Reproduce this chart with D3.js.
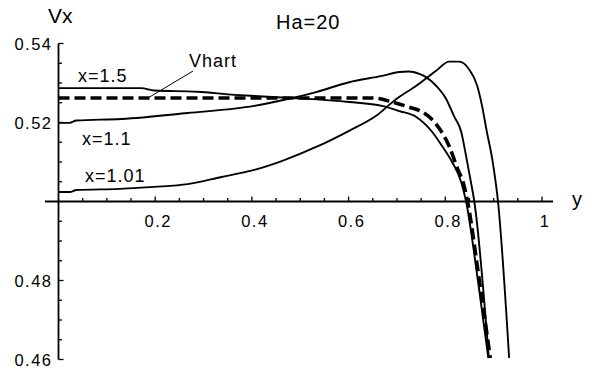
<!DOCTYPE html>
<html>
<head>
<meta charset="utf-8">
<script src="https://cdn.jsdelivr.net/npm/d3@7"></script>
<style>
  body { margin: 0; background: white; }
  text { font-family: "Liberation Sans", Arial, Helvetica, sans-serif; fill: black; }
</style>
</head>
<body>
<div id="chart"></div>
<script>
// y (horizontal) vs Vx, Ha=20
const vhart = [[0, 0.5262], [0.3, 0.5262], [0.649, 0.5262], [0.69, 0.5252], [0.725, 0.5239],
  [0.752, 0.5227], [0.781, 0.5196], [0.808, 0.514], [0.824, 0.5087], [0.839, 0.5039],
  [0.846, 0.5], [0.87, 0.4804], [0.893, 0.4604]];
const x15 = [[0, 0.5287], [0.171, 0.5287], [0.198, 0.5281], [0.287, 0.5278], [0.364, 0.527],
  [0.405, 0.5267], [0.483, 0.5262], [0.601, 0.5252], [0.669, 0.5242], [0.705, 0.5229],
  [0.74, 0.5214], [0.773, 0.5176], [0.793, 0.5141], [0.814, 0.51], [0.833, 0.5049],
  [0.843, 0.5], [0.868, 0.4795], [0.889, 0.4604]];
const x11 = [[0, 0.5199], [0.023, 0.5199], [0.037, 0.5205], [0.13, 0.5209], [0.267, 0.5224],
  [0.405, 0.5242], [0.483, 0.5262], [0.533, 0.5277], [0.601, 0.5302], [0.669, 0.5318],
  [0.705, 0.5328], [0.725, 0.5329], [0.746, 0.5323], [0.76, 0.5315], [0.781, 0.5293],
  [0.802, 0.5259], [0.818, 0.5216], [0.833, 0.5176], [0.843, 0.5115], [0.853, 0.5049],
  [0.86, 0.5], [0.89, 0.4604]];
const x101 = [[0, 0.5024], [0.023, 0.5024], [0.037, 0.5029], [0.126, 0.5032], [0.198, 0.5037],
  [0.267, 0.5044], [0.337, 0.5062], [0.405, 0.508], [0.463, 0.5103], [0.533, 0.5138],
  [0.601, 0.5179], [0.657, 0.5217], [0.698, 0.5259], [0.74, 0.5293], [0.781, 0.5331],
  [0.808, 0.5354], [0.829, 0.5354], [0.849, 0.5335], [0.866, 0.5293], [0.876, 0.5242],
  [0.886, 0.5176], [0.897, 0.5108], [0.909, 0.5], [0.932, 0.4604]];

const xMajor = [0.2, 0.4, 0.6, 0.8, 1];
const yMajor = [0.46, 0.48, 0.52, 0.54];

const width = 591;
const height = 371;

const svg = d3.select('#chart')
  .append('svg')
  .attr('width', width)
  .attr('height', height)
  .style('background', 'white');

const x = d3.scaleLinear().domain([0, 1]).range([58.5, 542]);
const y = d3.scaleLinear().domain([0.46, 0.54]).range([359.5, 43.5]);

// axes
svg.append('line')
  .attr('x1', 45).attr('x2', 553)
  .attr('y1', y(0.5)).attr('y2', y(0.5))
  .attr('stroke', 'black').attr('stroke-width', 1.8);
svg.append('line')
  .attr('x1', x(0)).attr('x2', x(0))
  .attr('y1', y(0.46)).attr('y2', y(0.54))
  .attr('stroke', 'black').attr('stroke-width', 1.8);

// x ticks (pointing up)
const xMinor = d3.range(1, 21).map(i => i * 0.05);
svg.append('g').selectAll('line')
  .data(xMinor)
  .enter()
  .append('line')
  .attr('x1', d => x(d)).attr('x2', d => x(d))
  .attr('y1', y(0.5)).attr('y2', d => y(0.5) - (xMajor.some(m => Math.abs(m - d) < 1e-6) ? 5 : 3.5))
  .attr('stroke', 'black').attr('stroke-width', 1.3);

svg.append('g').selectAll('text')
  .data(xMajor)
  .enter()
  .append('text')
  .attr('x', d => x(d) + 3)
  .attr('y', y(0.5) + 25)
  .attr('text-anchor', 'middle')
  .style('font-size', '16.5px')
  .style('letter-spacing', '1.5px')
  .text(d => d3.format('~g')(d));

// y ticks (pointing right)
const yMinor = d3.range(0, 17).map(i => 0.46 + i * 0.005).filter(d => Math.abs(d - 0.5) > 1e-6);
svg.append('g').selectAll('line')
  .data(yMinor)
  .enter()
  .append('line')
  .attr('x1', x(0)).attr('x2', d => x(0) + (yMajor.some(m => Math.abs(m - d) < 1e-6) ? 5 : 3.5))
  .attr('y1', d => y(d)).attr('y2', d => y(d))
  .attr('stroke', 'black').attr('stroke-width', 1.3);

svg.append('g').selectAll('text')
  .data(yMajor)
  .enter()
  .append('text')
  .attr('x', x(0) - 6)
  .attr('y', d => y(d) + 6)
  .attr('text-anchor', 'end')
  .style('font-size', '16.5px')
  .style('letter-spacing', '1.5px')
  .text(d => d3.format('.2f')(d));

// axis labels and title
svg.append('text').attr('x', 48).attr('y', 23).style('font-size', '21px').text('Vx');
svg.append('text').attr('x', 572).attr('y', 206).style('font-size', '20px').text('y');
svg.append('text').attr('x', 276).attr('y', 29).style('font-size', '20px')
  .style('letter-spacing', '1px').text('Ha=20');

// curves
const line = d3.line()
  .x(d => x(d[0]))
  .y(d => y(d[1]))
  .curve(d3.curveMonotoneX);

[x15, x11, x101].forEach(s => {
  svg.append('path')
    .attr('d', line(s))
    .attr('fill', 'none')
    .attr('stroke', 'black')
    .attr('stroke-width', 1.9);
});

svg.append('path')
  .attr('d', line(vhart))
  .attr('fill', 'none')
  .attr('stroke', 'black')
  .attr('stroke-width', 3.6)
  .attr('stroke-dasharray', '11,5');

// curve labels
const labels = [['x=1.5', 78, 82], ['x=1.1', 82, 145], ['x=1.01', 85, 182], ['Vhart', 189, 67]];
svg.append('g').selectAll('text')
  .data(labels)
  .enter()
  .append('text')
  .attr('x', d => d[1])
  .attr('y', d => d[2])
  .style('font-size', '18px')
  .style('letter-spacing', '1px')
  .text(d => d[0]);

// leader from Vhart label to the dashed curve
svg.append('line')
  .attr('x1', 193).attr('y1', 71)
  .attr('x2', x(0.185)).attr('y2', y(0.5262))
  .attr('stroke', 'black').attr('stroke-width', 1);
</script>
</body>
</html>
